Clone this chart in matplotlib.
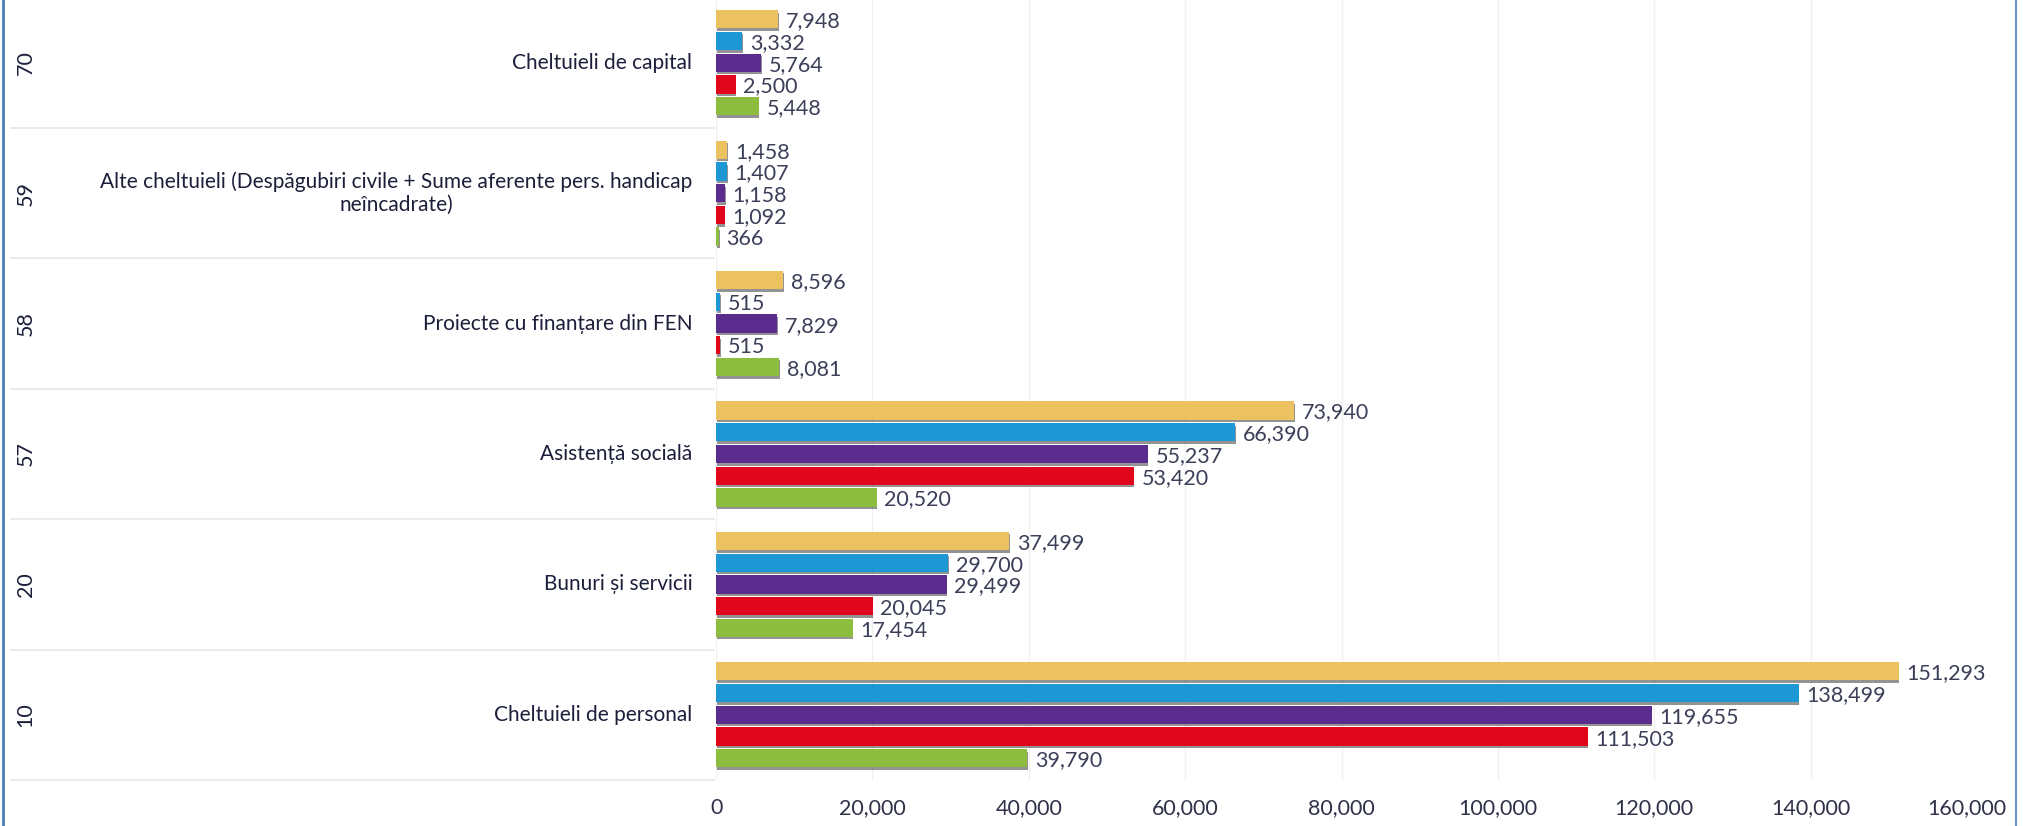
import matplotlib
matplotlib.use("Agg")
import matplotlib.pyplot as plt
import matplotlib.patheffects as pe
from matplotlib.lines import Line2D
from matplotlib.transforms import blended_transform_factory

# categories, bottom to top
codes = ["10", "20", "57", "58", "59", "70"]
names = [
    "Cheltuieli de personal",
    "Bunuri și servicii",
    "Asistență socială",
    "Proiecte cu finanțare din FEN",
    "Alte cheltuieli (Despăgubiri civile + Sume aferente pers. handicap\nneîncadrate)",
    "Cheltuieli de capital",
]

# series values (same order as categories), drawn top to bottom in each group
yellow = [151293, 37499, 73940, 8596, 1458, 7948]
blue = [138499, 29700, 66390, 515, 1407, 3332]
purple = [119655, 29499, 55237, 7829, 1158, 5764]
red = [111503, 20045, 53420, 515, 1092, 2500]
green = [39790, 17454, 20520, 8081, 366, 5448]

series = [yellow, blue, purple, red, green]
colors = ["#ECC160", "#1E98D4", "#5A2C8E", "#E2061C", "#8DBD3E"]
offsets = [2, 1, 0, -1, -2]

xticks = [0, 20000, 40000, 60000, 80000, 100000, 120000, 140000, 160000]

plt.rcParams['font.family'] = ['Lato', 'DejaVu Sans']

fig = plt.figure(figsize=(20.24, 8.26), dpi=100)
ax = fig.add_axes([0.3538, 0.0557, 0.6180, 0.9473])

pitch = 1 / 6
bar_h = 0.14
shadow = [pe.SimplePatchShadow(offset=(0.4, -1.8), shadow_rgbFace="#3a3a3a", alpha=0.55),
          pe.Normal()]

for vals, col, off in zip(series, colors, offsets):
    ys = [i + off * pitch for i in range(len(codes))]
    bars = ax.barh(ys, vals, height=bar_h, color=col, zorder=3)
    for b in bars:
        b.set_path_effects(shadow)
    for y, v in zip(ys, vals):
        ax.annotate(f"{v:,}", (v, y), xytext=(5.5, -1.5), textcoords="offset points",
                    va="center", ha="left", fontsize=15.5, color="#3b3f58")

ax.set_xlim(0, 160000)
ax.set_ylim(-0.5, len(codes) - 0.5)
ax.set_xticks(xticks)
ax.set_xticklabels([f"{t:,}" for t in xticks], fontsize=15.5, color="#2e3148")
ax.tick_params(axis="x", length=0, pad=13)
ax.set_yticks([])
for s in ax.spines.values():
    s.set_visible(False)
ax.grid(axis="x", color="#f0f0f0", linewidth=1, zorder=0)

# category labels on the left
tr = blended_transform_factory(ax.transAxes, ax.transData)
for i, (c, n) in enumerate(zip(codes, names)):
    ax.text(-0.019, i, n, transform=tr, ha="right", va="center",
            multialignment="center", fontsize=15, color="#1c1f3a")
    ax.text(-0.552, i, c, transform=tr, ha="center", va="center",
            rotation=90, fontsize=15.5, color="#1c1f3a")

# group separators in the label area
for k in range(len(codes)):
    ax.plot([-0.564, -0.002], [k - 0.5, k - 0.5], transform=tr, color="#e6e6e6",
            linewidth=1.2, clip_on=False)

# frame lines at the sides
fig.add_artist(Line2D([0.0015, 0.0015], [0, 1], transform=fig.transFigure,
                      color="#4a7db4", linewidth=2))
fig.add_artist(Line2D([0.9962, 0.9962], [0, 1], transform=fig.transFigure,
                      color="#6b95c4", linewidth=1.5))

fig.savefig("out.png", dpi=100)
